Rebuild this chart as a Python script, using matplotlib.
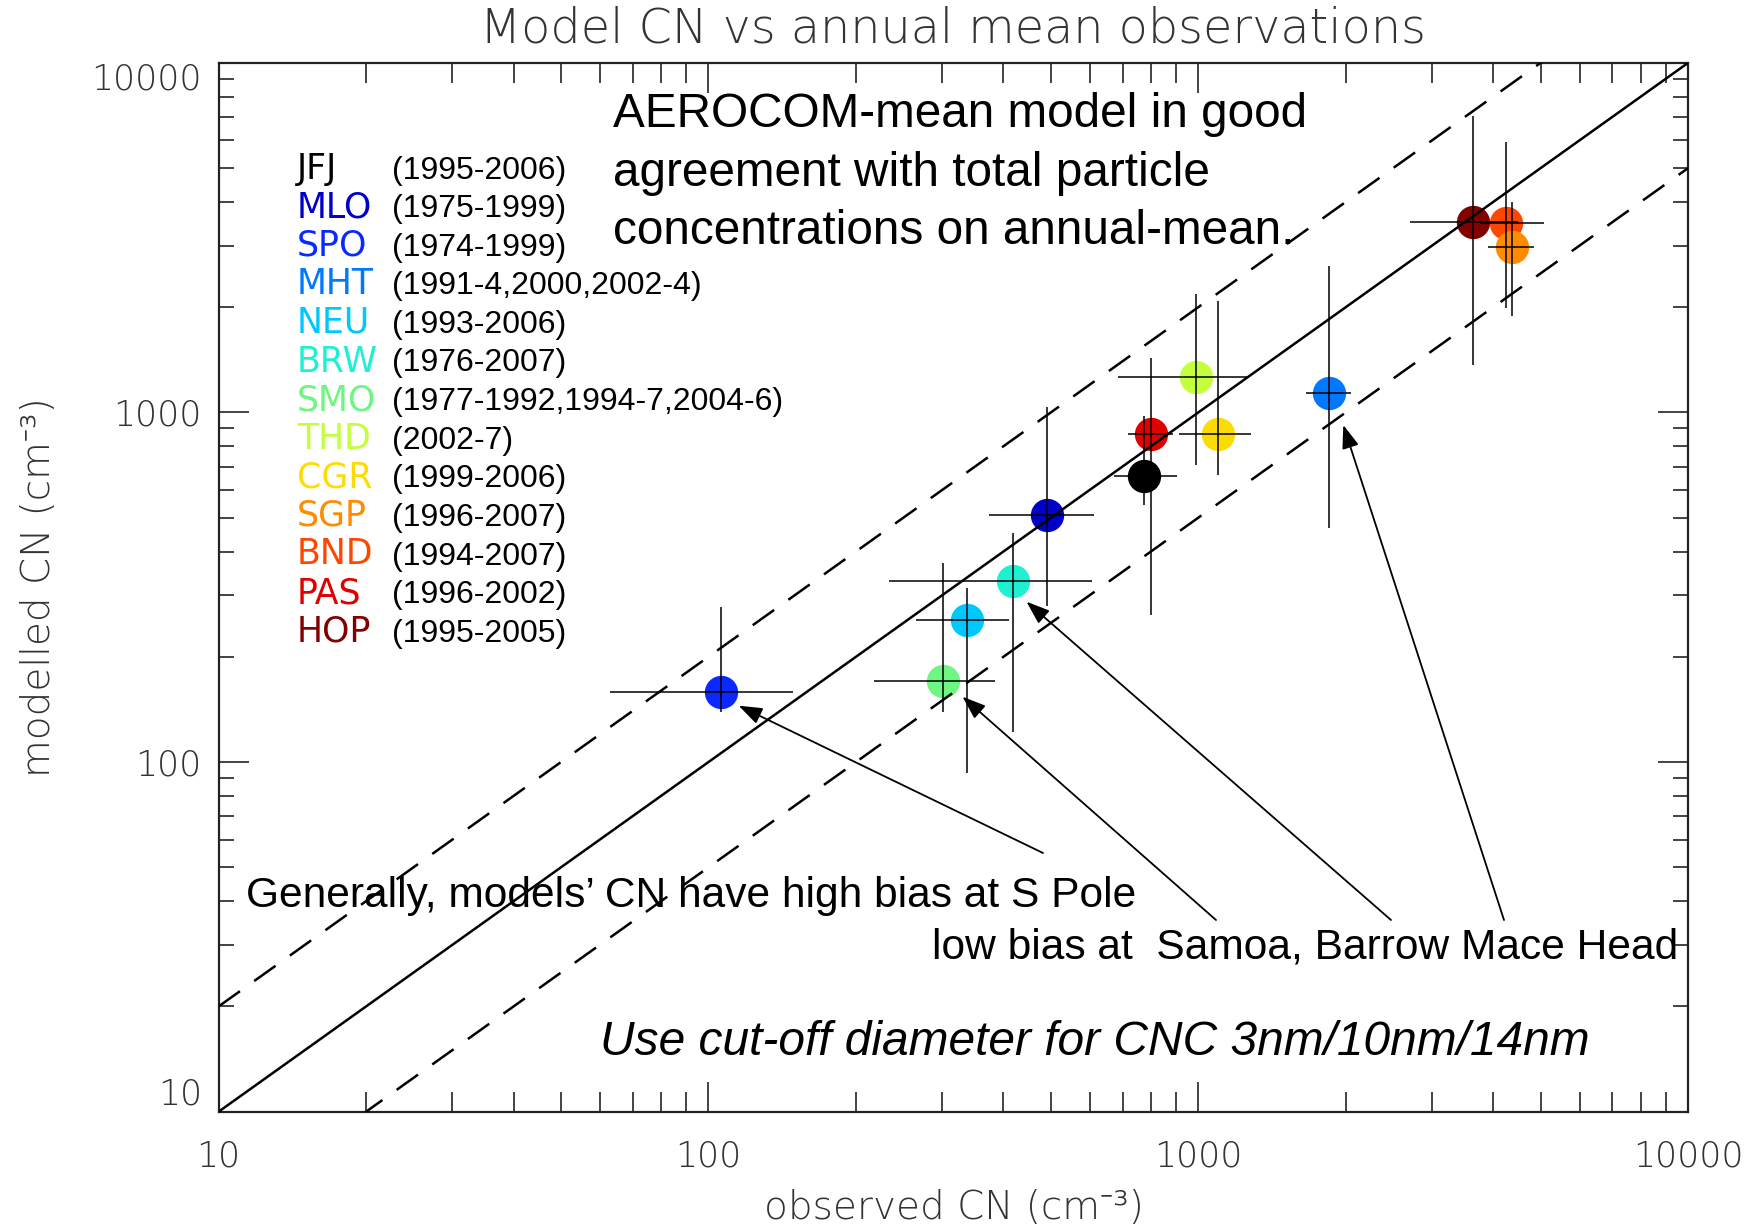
import matplotlib
matplotlib.use("Agg")
import matplotlib.pyplot as plt
from matplotlib.ticker import LogLocator, NullFormatter

# Stations, record periods and colours
stations = ["JFJ", "MLO", "SPO", "MHT", "NEU", "BRW", "SMO",
            "THD", "CGR", "SGP", "BND", "PAS", "HOP"]
periods = ["(1995-2006)", "(1975-1999)", "(1974-1999)", "(1991-4,2000,2002-4)",
           "(1993-2006)", "(1976-2007)", "(1977-1992,1994-7,2004-6)", "(2002-7)",
           "(1999-2006)", "(1996-2007)", "(1994-2007)", "(1996-2002)", "(1995-2005)"]
colors = ["#000000", "#0000c8", "#0a28ff", "#0078ff", "#00c8ff", "#1ef0d2", "#6ef582",
          "#c3ff3c", "#ffdc00", "#ff8c00", "#ff4600", "#e10000", "#820000"]

# Observed CN (cm-3): mean and range
obs_mean = [776, 490, 106, 1851, 337, 419, 301, 989, 1095, 4374, 4246, 801, 3640]
obs_low = [671, 374, 63, 1656, 265, 234, 218, 685, 914, 3909, 3758, 718, 2705]
obs_high = [903, 612, 149, 2049, 410, 607, 385, 1256, 1281, 4844, 5075, 887, 4500]
# Modelled CN (cm-3): mean and range
mod_mean = [659, 509, 159, 1138, 255, 329, 171, 1264, 868, 2963, 3469, 865, 3508]
mod_low = [545, 279, 139, 468, 93, 122, 139, 707, 662, 1886, 1991, 263, 1365]
mod_high = [976, 1035, 278, 2624, 314, 451, 372, 2182, 2087, 4000, 5939, 1427, 7031]

tick_values = [10, 100, 1000, 10000]
tick_labels = ["10", "100", "1000", "10000"]
axis_limits = [10, 10000]

W, H = 1758, 1225
fig = plt.figure(figsize=(W / 100, H / 100), dpi=100)
ax = fig.add_axes([218.6 / W, 1 - 1111.7 / H, (1688.3 - 218.6) / W, (1111.7 - 62.7) / H])
ax.set_xscale("log")
ax.set_yscale("log")
ax.set_xlim(axis_limits)
ax.set_ylim(axis_limits)

thin_family = ["DejaVu Sans", "Noto Sans"]
idl = dict(family=thin_family, weight="ultralight")
arial = dict(family="Liberation Sans")

ax.set_xticks(tick_values, labels=tick_labels)
ax.set_yticks(tick_values, labels=tick_labels)
for axis in (ax.xaxis, ax.yaxis):
    axis.set_minor_locator(LogLocator(base=10, subs=range(2, 10)))
    axis.set_minor_formatter(NullFormatter())
ax.tick_params(which="both", direction="in", top=True, right=True, width=1.1, color="#111111")
ax.tick_params(which="major", length=21.6)
ax.tick_params(axis="x", which="minor", length=14.4)
ax.tick_params(axis="y", which="minor", length=10.5)
ax.tick_params(axis="x", which="major", pad=20, labelsize=25, labelcolor="#333333")
ax.tick_params(axis="y", which="major", pad=12, labelsize=25, labelcolor="#333333")
for lab in ax.get_xticklabels() + ax.get_yticklabels():
    lab.set_fontfamily(idl["family"])
    lab.set_fontweight(idl["weight"])
# end labels of the y axis sit inside the axis range
ylabs = ax.get_yticklabels()
ylabs[0].set_va("bottom")
ylabs[-1].set_va("top")
for sp in ax.spines.values():
    sp.set_linewidth(1.6)
    sp.set_color("#222222")

ax.set_title("Model CN vs annual mean observations", fontsize=34.4, color="#333333",
             pad=14.4, **idl)
ax.set_xlabel("observed CN (cm⁻³)", fontsize=28, color="#333333", **idl)
ax.xaxis.set_label_coords(0.5, -0.1023)
ax.xaxis.label.set_va("baseline")
ax.set_ylabel("modelled CN (cm⁻³)", fontsize=28, color="#333333", **idl)
ax.yaxis.set_label_coords(-0.122, 0.5)
ax.yaxis.label.set_va("center")

# 1:1 line and factor-of-two lines
ax.plot(axis_limits, axis_limits, color="black", lw=1.8, zorder=3)
ax.plot(axis_limits, [2 * v for v in axis_limits], color="black", lw=1.8,
        ls=(0, (10.5, 7)), zorder=3)
ax.plot(axis_limits, [v / 2 for v in axis_limits], color="black", lw=1.8,
        ls=(0, (10.5, 7)), zorder=3)

# Station markers (drawn last-to-first) and range crosses
for i in reversed(range(len(stations))):
    ax.plot(obs_mean[i], mod_mean[i], "o", ms=24, color=colors[i], mec="none", zorder=2)
for i in range(len(stations)):
    ax.errorbar(obs_mean[i], mod_mean[i],
                xerr=[[obs_mean[i] - obs_low[i]], [obs_high[i] - obs_mean[i]]],
                yerr=[[mod_mean[i] - mod_low[i]], [mod_high[i] - mod_mean[i]]],
                fmt="none", ecolor="black", elinewidth=1.1, capsize=0, zorder=4)

# Station list
for i, (name, per, c) in enumerate(zip(stations, periods, colors)):
    yb = H - (178.5 + 38.6 * i)
    fig.text(297 / W, yb / H, name, color=c, fontsize=25, va="baseline",
             family="DejaVu Sans", weight="normal")
    fig.text(392 / W, yb / H, per, color="black", fontsize=23, va="baseline", **arial)

# Annotations
for k, line in enumerate(["AEROCOM-mean model in good",
                          "agreement with total particle",
                          "concentrations on annual-mean."]):
    fig.text(613 / W, (H - (127.3 + 58.3 * k)) / H, line, fontsize=34.4,
             va="baseline", **arial)

fig.text(246 / W, (H - 906.7) / H, "Generally, models\u2019 CN have high bias at S Pole",
         fontsize=30.6, va="baseline", **arial)
fig.text(1678.5 / W, (H - 958.3) / H, "low bias at  Samoa, Barrow Mace Head",
         fontsize=30.6, va="baseline", ha="right", **arial)
fig.text(600 / W, (H - 1055) / H, "Use cut-off diameter for CNC 3nm/10nm/14nm",
         fontsize=34.5, va="baseline", style="italic", **arial)

arrow_kw = dict(arrowstyle="-|>,head_length=0.55,head_width=0.2", color="black",
                lw=1.3, mutation_scale=26, shrinkA=0, shrinkB=0)
for tail, head in [((1043, 853), (738.7, 705.7)),
                   ((1216, 920), (962.5, 696.7)),
                   ((1391, 920), (1026.5, 601.7)),
                   ((1504, 920), (1343.3, 425))]:
    ax.annotate("", xy=(head[0], H - head[1]), xycoords="figure pixels",
                xytext=(tail[0], H - tail[1]), textcoords="figure pixels",
                arrowprops=arrow_kw, zorder=5)

fig.savefig("out.png", dpi=100)
